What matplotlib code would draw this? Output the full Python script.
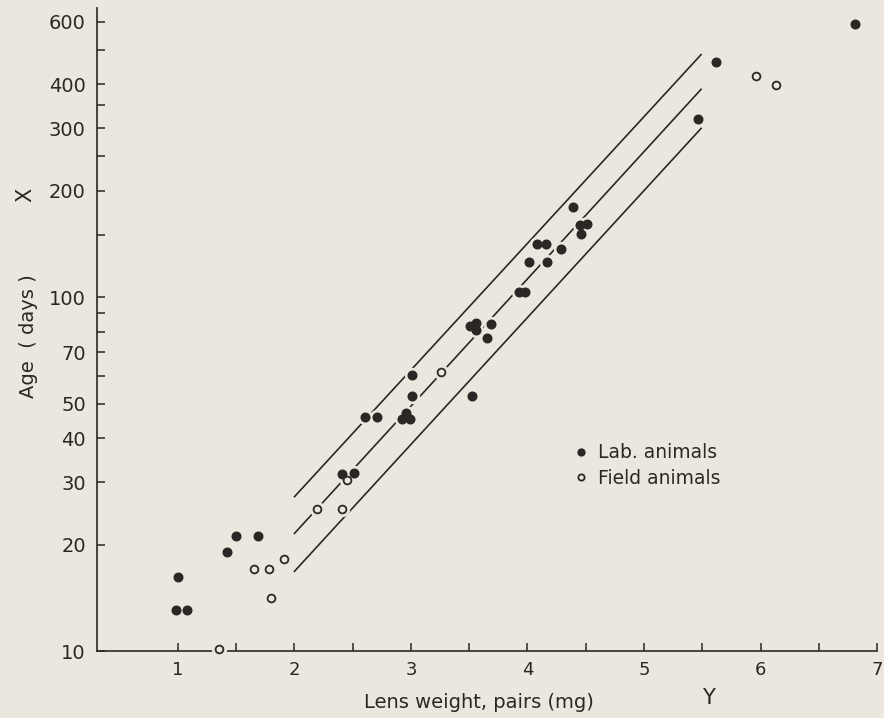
import matplotlib
matplotlib.use("Agg")
import matplotlib.pyplot as plt
from matplotlib.ticker import NullFormatter

# Lab animals (filled dots): lens weight (mg) vs age (days)
lab_x = [0.98, 1.0, 1.075, 1.42, 1.50, 1.69, 2.41, 2.51, 2.605, 2.71,
         2.92, 2.955, 2.995, 3.01, 3.01, 3.52, 3.505, 3.555, 3.56, 3.69,
         3.65, 3.93, 3.98, 4.01, 4.165, 4.085, 4.155, 4.29, 4.39, 4.45,
         4.51, 4.46, 5.46, 5.62, 6.81]
lab_y = [13.1, 16.2, 13.1, 19.1, 21.2, 21.2, 31.6, 31.9, 45.8, 45.8,
         45.2, 47.1, 45.2, 52.7, 60.3, 52.7, 82.9, 84.7, 80.8, 83.8,
         76.7, 103.7, 103.7, 125.8, 125.8, 141, 141, 137, 180, 160,
         161, 151, 319, 461, 593]

# Field animals (open circles)
field_x = [1.355, 1.65, 1.78, 1.80, 1.91, 2.19, 2.405, 2.455, 3.26, 5.96, 6.13]
field_y = [10.1, 17.1, 17.1, 14.1, 18.2, 25.2, 25.2, 30.4, 61.6, 422, 398]

# regression line and its limits
band_x = [2.0, 5.49]
upper_y = [27.3, 485]
mid_y = [21.5, 387]
lower_y = [16.8, 300]

yticks = [10, 20, 30, 40, 50, 70, 100, 200, 300, 400, 600]
yminor = [60, 80, 90, 150, 250, 350, 500]
xticks = [1, 2, 3, 4, 5, 6, 7]
xminor = [1.5, 2.5, 3.5, 4.5, 5.5, 6.5]

paper = '#ebe7de'
ink = '#2b2724'

fig = plt.figure(figsize=(8.84, 7.18), dpi=100, facecolor=paper)
ax = fig.add_axes([0.1097, 0.0933, 0.8824, 0.8956], facecolor=paper)

for yy in (upper_y, mid_y, lower_y):
    ax.plot(band_x, yy, color=ink, lw=1.2, zorder=2)

# paper-coloured halo round each point breaks the lines like in the print
all_x = lab_x + field_x
all_y = lab_y + field_y
ax.plot(all_x, all_y, 'o', ms=10, color=paper, mec=paper, zorder=3, clip_on=False)
ax.plot(lab_x, lab_y, 'o', ms=6.2, color=ink, mec=ink, zorder=4, clip_on=False,
        label='Lab. animals')
ax.plot(field_x, field_y, 'o', ms=5.6, mfc=paper, mec=ink, mew=1.3, zorder=4,
        clip_on=False, label='Field animals')

ax.set_yscale('log')
ax.set_xlim(0.305, 7.0)
ax.set_ylim(10, 657)

ax.set_yticks(yticks)
ax.set_yticklabels([str(t) for t in yticks])
ax.set_yticks(yminor, minor=True)
ax.yaxis.set_minor_formatter(NullFormatter())
ax.set_xticks(xticks)
ax.set_xticks(xminor, minor=True)

for s in ('top', 'right'):
    ax.spines[s].set_visible(False)
for s in ('left', 'bottom'):
    ax.spines[s].set_color(ink)
    ax.spines[s].set_linewidth(1.2)

ax.tick_params(axis='y', which='both', direction='in', length=6, width=1.1,
               color=ink, labelcolor=ink, labelsize=14, pad=8)
ax.tick_params(axis='x', which='both', direction='in', length=6, width=1.1,
               color=ink, labelcolor=ink, labelsize=13, pad=7)

ax.set_xlabel('Lens weight, pairs (mg)', fontsize=14, color=ink, labelpad=8)
ax.set_ylabel('Age  ( days )', fontsize=14, color=ink, labelpad=12)
ax.yaxis.set_label_coords(-0.076, 0.49)
ax.xaxis.set_label_coords(0.49, -0.065)

fig.text(25 / 884, 1 - 195 / 718, 'X', fontsize=15, color=ink, rotation=90,
         ha='center', va='center')
fig.text(708 / 884, 1 - 698 / 718, 'Y', fontsize=15, color=ink,
         ha='center', va='center')

leg = ax.legend(loc='upper left', bbox_to_anchor=(566 / 884, 1 - 434 / 718),
                bbox_transform=fig.transFigure, frameon=False, fontsize=13.5,
                handlelength=0.6, handletextpad=0.6, labelspacing=0.35,
                borderpad=0, markerscale=0.8)
for t in leg.get_texts():
    t.set_color(ink)

fig.savefig('out.png', dpi=100, facecolor=paper)
